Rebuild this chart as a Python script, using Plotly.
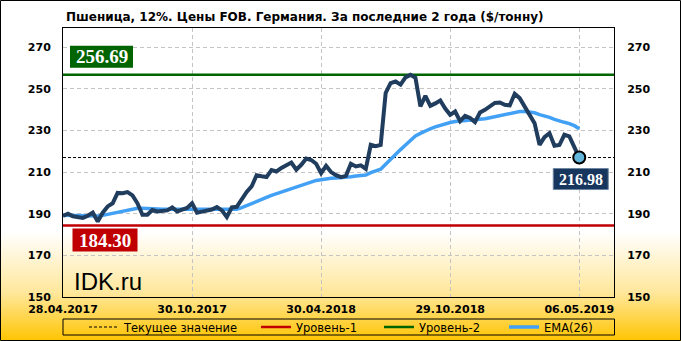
import base64
import plotly.graph_objects as go

# ---------------- data ----------------
TITLE = "Пшеница, 12%. Цены FOB. Германия. За последние 2 года ($/тонну)"
DATE_LABELS = ["28.04.2017", "30.10.2017", "30.04.2018", "29.10.2018", "06.05.2019"]
DATE_POS = [0, 26, 52, 78, 104]
Y_TICKS = [150, 170, 190, 210, 230, 250, 270]

PRICE = [189.0, 190.0, 188.8, 188.5, 188.0, 189.0, 190.5, 186.3, 190.5, 193.5,
         195.0, 200.0, 199.8, 200.4, 198.8, 195.0, 189.5, 189.5, 191.8, 191.1,
         191.2, 191.6, 193.0, 191.1, 192.0, 192.8, 195.0, 190.5, 191.0, 191.5,
         192.0, 193.2, 191.6, 188.4, 193.0, 193.3, 197.0, 200.5, 203.1, 208.5,
         208.0, 207.6, 211.0, 210.3, 212.0, 213.5, 214.6, 211.2, 213.5, 216.5,
         215.8, 214.0, 209.5, 213.0, 210.0, 208.5, 207.6, 208.2, 214.0, 212.7,
         213.2, 211.5, 223.1, 222.4, 223.0, 248.0, 252.7, 253.5, 252.0, 255.5,
         256.69, 255.3, 241.5, 246.6, 241.8, 243.0, 244.4, 240.5, 237.5, 239.1,
         234.5, 237.0, 236.0, 234.0, 238.6, 239.9, 241.5, 243.2, 243.4, 242.3,
         242.0, 247.6, 245.5, 241.5, 238.3, 233.5, 223.1, 226.8, 228.7, 222.6,
         223.0, 227.9, 227.1, 222.0, 216.98]

EMA26 = [189.3, 189.2, 189.1, 189.0, 189.0, 188.9, 189.0, 188.9, 189.2, 189.7,
         190.3, 190.9, 191.5, 191.9, 192.3, 192.6, 192.6, 192.4, 192.3, 192.2,
         192.1, 192.1, 192.1, 192.1, 192.1, 192.2, 192.3, 192.2, 192.1, 192.1,
         192.1, 192.2, 192.1, 191.9, 192.0, 192.2, 192.9, 193.8, 194.9, 196.0,
         196.9, 197.8, 198.8, 199.6, 200.5, 201.4, 202.3, 203.0, 203.8, 204.7,
         205.4, 206.0, 206.3, 206.8, 207.0, 207.1, 207.2, 207.3, 207.8, 208.1,
         208.4, 208.6, 209.7, 210.6, 211.4, 213.8, 216.3, 218.4, 220.8, 223.0,
         225.4, 227.4, 228.6, 229.9, 230.8, 231.7, 232.5, 233.3, 233.8, 234.3,
         234.5, 234.7, 234.9, 235.0, 235.3, 235.6, 236.1, 236.6, 237.0, 237.6,
         238.2, 238.8, 239.1, 239.1, 238.9, 238.5, 237.6, 237.0, 236.3, 235.3,
         234.4, 233.9, 233.3, 232.3, 230.8]

LEVEL1 = 184.30
LEVEL2 = 256.69
WEEKS = list(range(len(PRICE)))
CURRENT = PRICE[-1]

# ---------------- layout geometry ----------------
W, H = 681, 341
ML, MR, MT, MB = 63, 67, 28, 44
PW, PH = W - ML - MR, H - MT - MB
X_RANGE = [0, 111]
Y_RANGE = [150, 279.2]


def px2x(px):
    return (px - ML) / PW


def py2y(py):
    return (H - MB - py) / PH


NAVY = "#203D5E"
BLUE = "#42A1F5"
RED = "#C00000"
GREEN = "#006400"
SANS = "DejaVu Sans"
SERIF = "Liberation Serif"

fig = go.Figure()

# levels and current value line (also legend entries)
fig.add_trace(go.Scatter(x=X_RANGE, y=[CURRENT, CURRENT], mode="lines",
                         line=dict(color="black", width=1, dash="3px,2px"),
                         name="Текущее значение", legendrank=1, legendwidth=127,
                         hoverinfo="skip"))
fig.add_trace(go.Scatter(x=X_RANGE, y=[LEVEL1, LEVEL1], mode="lines",
                         line=dict(color=RED, width=2.5),
                         name="Уровень-1", legendrank=2, legendwidth=78,
                         hoverinfo="skip"))
fig.add_trace(go.Scatter(x=X_RANGE, y=[LEVEL2, LEVEL2], mode="lines",
                         line=dict(color=GREEN, width=2.5),
                         name="Уровень-2", legendrank=3, legendwidth=80,
                         hoverinfo="skip"))
fig.add_trace(go.Scatter(x=WEEKS, y=EMA26, mode="lines",
                         line=dict(color=BLUE, width=3.5),
                         name="EMA(26)", legendrank=4, hoverinfo="skip"))
fig.add_trace(go.Scatter(x=WEEKS, y=PRICE, mode="lines",
                         line=dict(color=NAVY, width=4, shape="linear"),
                         showlegend=False, hoverinfo="skip"))
fig.add_trace(go.Scatter(x=[WEEKS[-1]], y=[CURRENT], mode="markers",
                         marker=dict(size=12, color="#63B6DC",
                                     line=dict(color="black", width=2)),
                         showlegend=False, hoverinfo="skip"))
# right axis anchor
fig.add_trace(go.Scatter(x=[None], y=[None], yaxis="y2", showlegend=False,
                         hoverinfo="skip"))

# ---------------- background gradient ----------------
svg = (f'<svg xmlns="http://www.w3.org/2000/svg" width="{W}" height="{H}" '
       f'preserveAspectRatio="none"><defs><linearGradient id="g" x1="0" y1="0" '
       f'x2="0" y2="1"><stop offset="0" stop-color="#FFFFFF"/>'
       f'<stop offset="0.68" stop-color="#FFFFFF"/>'
       f'<stop offset="0.86" stop-color="#FFE79A"/>'
       f'<stop offset="1" stop-color="#FFC400"/></linearGradient></defs>'
       f'<rect width="{W}" height="{H}" fill="url(#g)"/></svg>')
src = "data:image/svg+xml;base64," + base64.b64encode(svg.encode()).decode()

shapes = [
    # outer frame
    dict(type="rect", xref="paper", yref="paper",
         x0=px2x(0.5), x1=px2x(W - 0.5), y0=py2y(H - 0.5), y1=py2y(0.5),
         line=dict(color="black", width=1), fillcolor="rgba(0,0,0,0)", layer="above"),
    # legend frame
    dict(type="rect", xref="paper", yref="paper",
         x0=px2x(63), x1=px2x(614.5), y0=py2y(335), y1=py2y(319),
         line=dict(color="black", width=1), fillcolor="rgba(0,0,0,0)"),
    # value boxes
    dict(type="rect", xref="paper", yref="y", ysizemode="pixel", yanchor=LEVEL2,
         x0=px2x(70), x1=px2x(133), y0=7, y1=29,
         fillcolor=GREEN, line=dict(width=0), layer="above"),
    dict(type="rect", xref="paper", yref="y", ysizemode="pixel", yanchor=LEVEL1,
         x0=px2x(72.5), x1=px2x(137.5), y0=-3, y1=-26,
         fillcolor=RED, line=dict(width=0), layer="above"),
    dict(type="rect", xref="x", yref="y", xsizemode="pixel", ysizemode="pixel",
         xanchor=WEEKS[-1], yanchor=CURRENT, x0=-26, x1=29, y0=-11, y1=-32,
         fillcolor="#17365D", line=dict(color="#6F86A3", width=1), layer="above"),
]

annotations = [
    dict(text=f"<b>{TITLE}</b>", xref="paper", yref="paper", x=px2x(64),
         y=py2y(17.5), xanchor="left", yanchor="middle", showarrow=False,
         font=dict(family=SANS, size=12, color="black")),
    dict(text="IDK.ru", xref="paper", yref="paper", x=px2x(72), y=py2y(281),
         xanchor="left", yanchor="middle", showarrow=False,
         font=dict(family="Liberation Sans", size=24, color="black")),
    dict(text=f"<b>{LEVEL2:.2f}</b>", xref="paper", yref="y", x=px2x(101.5),
         y=LEVEL2, yshift=18, xanchor="center", yanchor="middle", showarrow=False,
         font=dict(family=SERIF, size=19, color="white")),
    dict(text=f"<b>{LEVEL1:.2f}</b>", xref="paper", yref="y", x=px2x(105),
         y=LEVEL1, yshift=-14.5, xanchor="center", yanchor="middle", showarrow=False,
         font=dict(family=SERIF, size=19, color="white")),
    dict(text=f"<b>{CURRENT:.2f}</b>", xref="x", yref="y", x=WEEKS[-1], xshift=1.5,
         y=CURRENT, yshift=-21.5, xanchor="center", yanchor="middle", showarrow=False,
         font=dict(family=SERIF, size=16, color="white")),
]

tick_font = dict(family=SANS, size=11, color="black", weight="bold")
grid = dict(showgrid=True, gridcolor="#C4C4C4", gridwidth=1, griddash="4px,3px")

fig.update_layout(
    width=W, height=H,
    margin=dict(l=ML, r=MR, t=MT, b=MB, pad=0, autoexpand=False),
    paper_bgcolor="white",
    plot_bgcolor="rgba(0,0,0,0)",
    images=[dict(source=src, xref="paper", yref="paper", x=px2x(0), y=py2y(0),
                 sizex=W / PW, sizey=H / PH, xanchor="left", yanchor="top",
                 sizing="stretch", layer="below")],
    shapes=shapes,
    annotations=annotations,
    showlegend=True,
    legend=dict(orientation="h", x=px2x(84), xanchor="left", y=py2y(327),
                yanchor="middle", bgcolor="rgba(0,0,0,0)", borderwidth=0,
                font=dict(family=SANS, size=11.5, color="black"),
                itemwidth=30, traceorder="normal"),
    xaxis=dict(range=X_RANGE, tickvals=DATE_POS, ticktext=DATE_LABELS,
               showline=True, linecolor="black", linewidth=1, mirror=True,
               ticks="outside", ticklen=2, tickcolor="rgba(0,0,0,0)",
               tickfont=tick_font, zeroline=False, fixedrange=True, **grid),
    yaxis=dict(range=Y_RANGE, tickvals=Y_TICKS, showline=True, linecolor="black",
               linewidth=1, mirror=True, ticks="outside", ticklen=9,
               tickcolor="rgba(0,0,0,0)", tickfont=tick_font, zeroline=False,
               fixedrange=True, **grid),
    yaxis2=dict(range=Y_RANGE, tickvals=Y_TICKS, overlaying="y", side="right",
                showgrid=False, showline=False, ticks="outside", ticklen=10,
                tickcolor="rgba(0,0,0,0)", tickfont=tick_font, zeroline=False,
                fixedrange=True),
    hovermode=False,
)

fig.write_html("out.html", config={"displayModeBar": False})
